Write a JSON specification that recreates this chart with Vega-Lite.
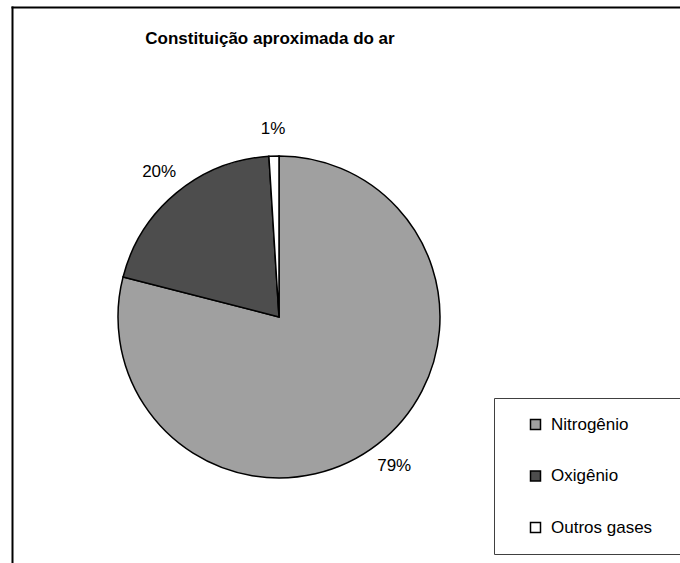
{
  "$schema": "https://vega.github.io/schema/vega-lite/v6.json",
  "autosize": {"type": "none"},
  "padding": {"left": 12, "top": 7, "right": 0, "bottom": 0},
  "width": 668,
  "height": 556,
  "background": "white",
  "view": {"stroke": null, "fill": "white"},
  "title": {
    "text": "Constituição aproximada do ar",
    "font": "Liberation Sans",
    "fontSize": 17,
    "fontWeight": "bold",
    "color": "#000000",
    "anchor": "middle",
    "offset": -41,
    "dx": -76
  },
  "data": {
    "values": [
      {"gas": "Nitrogênio", "pct": 0.79, "ord": 1},
      {"gas": "Oxigênio", "pct": 0.20, "ord": 2},
      {"gas": "Outros gases", "pct": 0.01, "ord": 3}
    ]
  },
  "layer": [
    {
      "mark": {"type": "point", "opacity": 0},
      "encoding": {
        "x": {
          "datum": 0,
          "type": "quantitative",
          "scale": {"domain": [0, 1]},
          "axis": {"orient": "top", "domain": true, "domainColor": "#000000", "domainWidth": 2, "domainCap": "square", "ticks": false, "labels": false, "grid": false, "title": null}
        },
        "y": {
          "datum": 0,
          "type": "quantitative",
          "scale": {"domain": [0, 1]},
          "axis": {"orient": "left", "domain": true, "domainColor": "#000000", "domainWidth": 2, "domainCap": "square", "ticks": false, "labels": false, "grid": false, "title": null}
        }
      }
    },
    {
      "mark": {"type": "arc", "x": 267, "y": 310, "outerRadius": 161, "stroke": "#000000", "strokeWidth": 1.5},
      "encoding": {
        "theta": {"field": "pct", "type": "quantitative", "stack": true},
        "order": {"field": "ord", "type": "quantitative"},
        "color": {
          "field": "gas",
          "type": "nominal",
          "scale": {"domain": ["Nitrogênio", "Oxigênio", "Outros gases"], "range": ["#A0A0A0", "#4D4D4D", "#FFFFFF"]},
          "legend": {
            "orient": "none",
            "legendX": 482,
            "legendY": 391,
            "title": " ",
            "titleOrient": "left",
            "titleFontSize": 17,
            "titlePadding": 15,
            "padding": 18,
            "strokeColor": "#404040",
            "symbolType": "square",
            "symbolSize": 100,
            "symbolStrokeColor": "#000000",
            "labelFont": "Liberation Sans",
            "labelFontSize": 17,
            "labelColor": "#000000",
            "labelOffset": 7,
            "rowPadding": 33.5,
            "labelExpr": "datum.label + '\u00a0\u00a0\u00a0\u00a0\u00a0\u200b'"
          }
        }
      }
    },
    {
      "mark": {"type": "text", "x": 267, "y": 310, "radius": 188, "font": "Liberation Sans", "fontSize": 17, "color": "#000000"},
      "encoding": {
        "theta": {"field": "pct", "type": "quantitative", "stack": true},
        "order": {"field": "ord", "type": "quantitative"},
        "text": {"field": "pct", "type": "quantitative", "format": ".0%"}
      }
    }
  ]
}
